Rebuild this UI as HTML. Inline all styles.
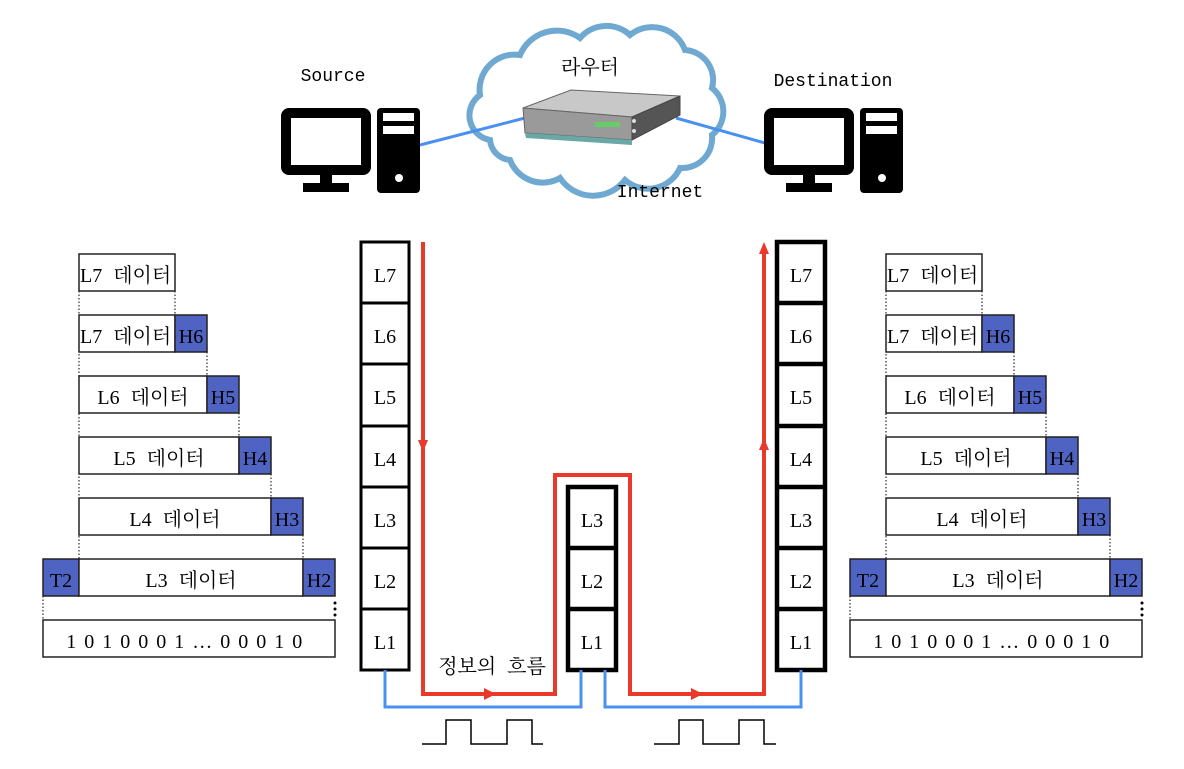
<!DOCTYPE html>
<html><head><meta charset="utf-8"><style>
body{margin:0;background:#fff}
svg text{font-family:"Liberation Serif","Noto Serif CJK KR","Noto Serif CJK SC",serif;fill:#000}
.m{font-family:"Liberation Mono","Noto Sans CJK KR",monospace}
</style></head><body>
<svg width="1184" height="764" viewBox="0 0 1184 764" xmlns="http://www.w3.org/2000/svg">
<path d="M490,140 A25 25 0 0 1 480,95 A35 35 0 0 1 520,55 A40 40 0 0 1 580,38 A35 35 0 0 1 630,35 A35 35 0 0 1 685,50 A30 30 0 0 1 712,88 A30 30 0 0 1 712,135 A30 30 0 0 1 680,168 A35 35 0 0 1 625,180 A40 40 0 0 1 560,178 A35 35 0 0 1 510,160 A22 22 0 0 1 490,140 Z" fill="none" stroke="#6fa8d0" stroke-width="6"/>
<line x1="420" y1="145" x2="525" y2="118" stroke="#4a90f0" stroke-width="3"/>
<line x1="676" y1="118" x2="765" y2="143" stroke="#4a90f0" stroke-width="3"/>
<polygon points="523,108 571,90 680,96 632,117" fill="#c8c8c8" stroke="#666"/>
<polygon points="523,108 632,117 632,140 525,133" fill="#9a9a9a" stroke="#666"/>
<polygon points="632,117 680,96 680,115 632,140" fill="#555" stroke="#444"/>
<polygon points="525,133 632,140 632,145 526,138" fill="#6aa8a8"/>
<rect x="595" y="122" width="25" height="5" fill="#6c6"/>
<circle cx="634" cy="121" r="2" fill="#ddd"/><circle cx="634" cy="131" r="2" fill="#ddd"/>
<g id="pc">
<rect x="286" y="113" width="80" height="57" fill="#fff" stroke="#000" stroke-width="10" rx="3"/>
<rect x="320" y="174" width="12" height="10" fill="#000"/>
<rect x="303" y="183" width="46" height="9" fill="#000"/>
<rect x="377" y="108" width="43" height="85" rx="4" fill="#000"/>
<rect x="383" y="113" width="31" height="8" fill="#fff"/>
<rect x="383" y="126" width="31" height="8" fill="#fff"/>
<circle cx="399" cy="178" r="4" fill="#fff"/>
</g>
<use href="#pc" transform="translate(483,0)"/>
<text class="m" x="333" y="81" font-size="18" text-anchor="middle">Source</text>
<text class="m" x="833" y="86" font-size="18" text-anchor="middle">Destination</text>
<text x="590" y="74" font-size="20" text-anchor="middle">라우터</text>
<text class="m" x="660" y="197" font-size="18" text-anchor="middle">Internet</text>

<g id="enc" font-size="20" word-spacing="6">
<g fill="none" stroke="#000" stroke-dasharray="1.5 2" stroke-width="1">
<line x1="79" y1="291" x2="79" y2="559"/>
<line x1="175" y1="291" x2="175" y2="315"/>
<line x1="207" y1="352" x2="207" y2="376"/>
<line x1="239" y1="413" x2="239" y2="437"/>
<line x1="271" y1="474" x2="271" y2="498"/>
<line x1="303" y1="535" x2="303" y2="559"/>
<line x1="43" y1="596" x2="43" y2="620"/>
</g>
<circle cx="335" cy="603" r="1.5"/><circle cx="335" cy="609" r="1.5"/><circle cx="335" cy="615" r="1.5"/>
<g stroke="#222" stroke-width="1.5">
<rect x="79" y="254" width="96" height="37" fill="#fff"/>
<rect x="79" y="315" width="96" height="37" fill="#fff"/><rect x="175" y="315" width="32" height="37" fill="#4f63c2"/>
<rect x="79" y="376" width="128" height="37" fill="#fff"/><rect x="207" y="376" width="32" height="37" fill="#4f63c2"/>
<rect x="79" y="437" width="160" height="37" fill="#fff"/><rect x="239" y="437" width="32" height="37" fill="#4f63c2"/>
<rect x="79" y="498" width="192" height="37" fill="#fff"/><rect x="271" y="498" width="32" height="37" fill="#4f63c2"/>
<rect x="43" y="559" width="36" height="37" fill="#4f63c2"/><rect x="79" y="559" width="224" height="37" fill="#fff"/><rect x="303" y="559" width="32" height="37" fill="#4f63c2"/>
<rect x="43" y="620" width="292" height="37" fill="#fff"/>
</g>
<text x="80" y="282">L7 데이터</text>
<text x="80" y="343">L7 데이터</text>
<text x="143" y="404" text-anchor="middle">L6 데이터</text>
<text x="159" y="465" text-anchor="middle">L5 데이터</text>
<text x="175" y="526" text-anchor="middle">L4 데이터</text>
<text x="191" y="587" text-anchor="middle">L3 데이터</text>
<g word-spacing="0">
<text x="191" y="343" text-anchor="middle">H6</text>
<text x="223" y="404" text-anchor="middle">H5</text>
<text x="255" y="465" text-anchor="middle">H4</text>
<text x="287" y="526" text-anchor="middle">H3</text>
<text x="319" y="587" text-anchor="middle">H2</text>
<text x="61" y="587" text-anchor="middle">T2</text>
</g>
<text x="185" y="648" text-anchor="middle" font-size="20" word-spacing="0" letter-spacing="1.5">1 0 1 0 0 0 1 … 0 0 0 1 0</text>
</g>
<use href="#enc" transform="translate(807,0)"/>

<g font-size="20" text-anchor="middle">
<rect x="361" y="242" width="48" height="428" fill="#fff" stroke="#000" stroke-width="3"/>
<g stroke="#000" stroke-width="3"><line x1="361" y1="303" x2="409" y2="303"/><line x1="361" y1="364" x2="409" y2="364"/><line x1="361" y1="426" x2="409" y2="426"/><line x1="361" y1="487" x2="409" y2="487"/><line x1="361" y1="548" x2="409" y2="548"/><line x1="361" y1="609" x2="409" y2="609"/></g>
<text x="385" y="282">L7</text><text x="385" y="343">L6</text><text x="385" y="404">L5</text><text x="385" y="466">L4</text><text x="385" y="527">L3</text><text x="385" y="588">L2</text><text x="385" y="649">L1</text>

<rect x="777" y="242" width="48" height="428" fill="#fff" stroke="#000" stroke-width="4.5"/>
<g stroke="#000" stroke-width="4.5"><line x1="777" y1="303" x2="825" y2="303"/><line x1="777" y1="364" x2="825" y2="364"/><line x1="777" y1="426" x2="825" y2="426"/><line x1="777" y1="487" x2="825" y2="487"/><line x1="777" y1="548" x2="825" y2="548"/><line x1="777" y1="609" x2="825" y2="609"/></g>
<text x="801" y="282">L7</text><text x="801" y="343">L6</text><text x="801" y="404">L5</text><text x="801" y="466">L4</text><text x="801" y="527">L3</text><text x="801" y="588">L2</text><text x="801" y="649">L1</text>

<rect x="568" y="487" width="48" height="183" fill="#fff" stroke="#000" stroke-width="4.5"/>
<g stroke="#000" stroke-width="4.5"><line x1="568" y1="548" x2="616" y2="548"/><line x1="568" y1="609" x2="616" y2="609"/></g>
<text x="592" y="527">L3</text><text x="592" y="588">L2</text><text x="592" y="649">L1</text>
</g>

<polyline points="423,242 423,694 555,694 555,475 630,475 630,694 764,694 764,248" fill="none" stroke="#e8392b" stroke-width="4"/>
<g fill="#e8392b">
<polygon points="418,440 428,440 423,452"/>
<polygon points="484,688 484,700 496,694"/>
<polygon points="691,688 691,700 703,694"/>
<polygon points="759,450 769,450 764,438"/>
<polygon points="759,254 769,254 764,242"/>
</g>
<text x="492" y="673" font-size="20" word-spacing="6" text-anchor="middle">정보의 흐름</text>

<polyline points="385,670 385,707 581,707 581,670" fill="none" stroke="#4a90f0" stroke-width="3"/>
<polyline points="605,670 605,707 801,707 801,670" fill="none" stroke="#4a90f0" stroke-width="3"/>

<polyline points="422,744 446,744 446,720 471,720 471,744 507,744 507,720 532,720 532,744 543,744" fill="none" stroke="#000" stroke-width="1.5"/>
<polyline points="654,744 679,744 679,720 703,720 703,744 739,744 739,720 764,720 764,744 776,744" fill="none" stroke="#000" stroke-width="1.5"/>
</svg>
</body></html>
